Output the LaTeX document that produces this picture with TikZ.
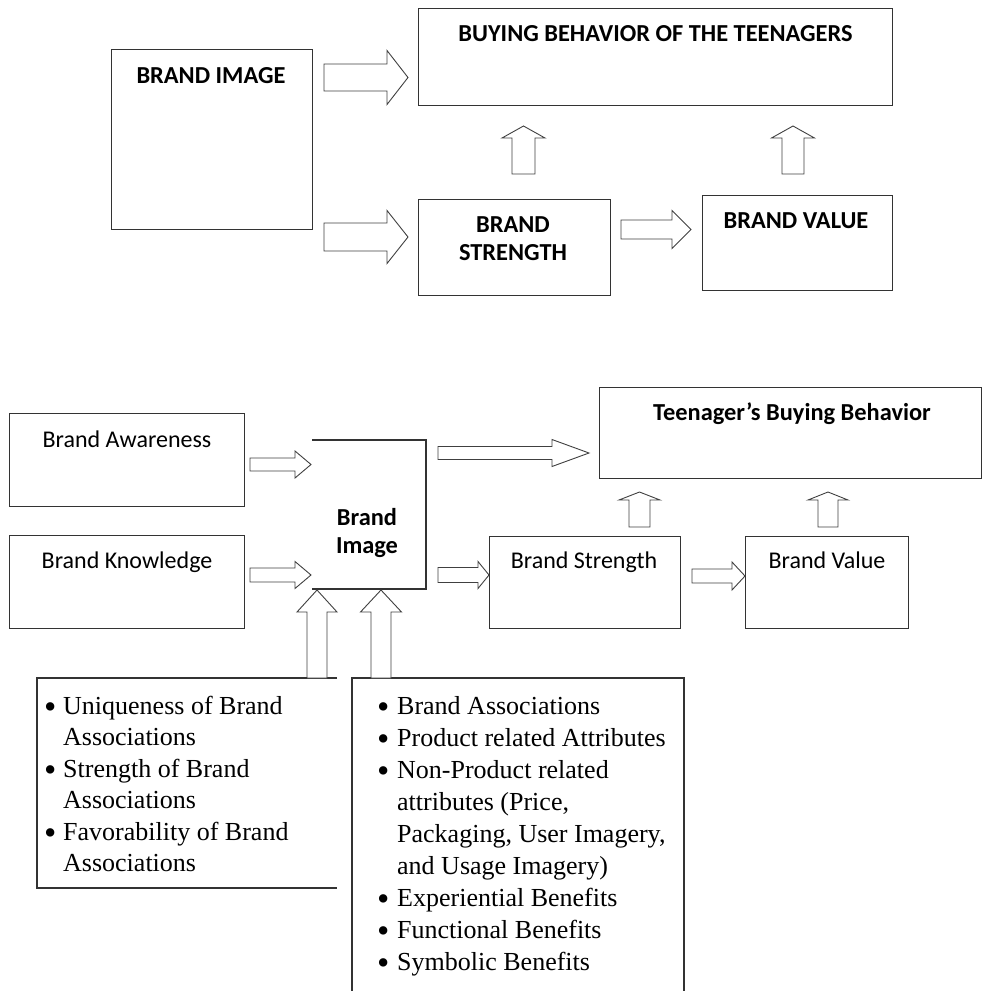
\documentclass[tikz,border=0pt]{standalone}
\usepackage{fontspec}
\setmainfont{Liberation Serif}
\newfontfamily\calfont{Carlito}
% block arrow pointing right: x0, head base x, tip x, centre y, shaft half, head half
\newcommand\rblock[6]{\draw[blk] (#1,{#4-#5}) -- (#2,{#4-#5}) -- (#2,{#4-#6}) -- (#3,#4) -- (#2,{#4+#6}) -- (#2,{#4+#5}) -- (#1,{#4+#5}) -- cycle;}
% block arrow pointing up: centre x, shaft half, head half, bottom y, head base y, tip y
\newcommand\ublock[6]{\draw[blk] ({#1-#2},#4) -- ({#1-#2},#5) -- ({#1-#3},#5) -- (#1,#6) -- ({#1+#3},#5) -- ({#1+#2},#5) -- ({#1+#2},#4) -- cycle;}
\newcommand\bul{\raisebox{-4.5pt}{\scalebox{1.35}{•}}}
\begin{document}
\begin{tikzpicture}[x=1pt,y=-1pt,
  box/.style={draw=black!80, line width=1.3pt, inner sep=0pt, anchor=north west},
  edge/.style={draw=black!80, line width=1.3pt},
  blk/.style={draw=black!75, line width=0.9pt, fill=white, line join=miter},
  lbl/.style={font=\calfont\fontsize{24}{28}\selectfont, inner sep=0pt, anchor=base},
  blbl/.style={font=\calfont\bfseries\fontsize{24.4}{28}\selectfont, inner sep=0pt, anchor=base},
  lstl/.style={font=\fontsize{26}{31.5}\selectfont, inner sep=0pt, anchor=base west},
  lstr/.style={font=\fontsize{26}{32}\selectfont, inner sep=0pt, anchor=base west}]
\useasboundingbox (0,0) rectangle (982,991);

% ---------------- top diagram ----------------
\node[box, minimum width=201pt, minimum height=180pt] (BIbox) at (111,49) {};
\node[blbl] (BItxt) at (211,83) {BRAND IMAGE};
\node[box, minimum width=474pt, minimum height=97pt] (BBbox) at (418,8) {};
\node[blbl] (BBtxt) at (655.5,41) {BUYING BEHAVIOR OF THE TEENAGERS};
\node[box, minimum width=192pt, minimum height=96pt] (BSbox) at (418,199) {};
\node[blbl, align=center] (BStxt) at (513,260) {BRAND\\[0pt]STRENGTH};
\node[box, minimum width=190pt, minimum height=95pt] (BVbox) at (702,195) {};
\node[blbl] (BVtxt) at (796,228) {BRAND VALUE};

\rblock{324}{387}{408}{77.5}{13.5}{27}
\rblock{324}{387}{408}{237}{14}{26.5}
\rblock{621}{672}{691}{229.5}{9.5}{19}
\ublock{523.5}{11.5}{21.5}{174}{138}{126}
\ublock{793}{11}{21.5}{174}{138}{126}

% ---------------- bottom diagram ----------------
\node[box, minimum width=235pt, minimum height=93pt] (BAbox) at (9,413) {};
\node[lbl] (BAtxt) at (127,447) {Brand Awareness};
\node[box, minimum width=235pt, minimum height=93pt] (BKbox) at (9,535) {};
\node[lbl] (BKtxt) at (127,568) {Brand Knowledge};

\coordinate (bi1) at (312,440);
\coordinate (bi2) at (426,440);
\coordinate (bi3) at (426,589);
\coordinate (bi4) at (312,589);
\draw[edge] (bi1) -- (bi2) -- (bi3) -- (bi4);
\node[blbl, align=center] (BI2txt) at (367,553) {Brand\\[0pt]Image};

\node[box, minimum width=382pt, minimum height=91pt] (TBbox) at (599,387) {};
\node[blbl] (TBtxt) at (792,420) {Teenager’s Buying Behavior};
\node[box, minimum width=191pt, minimum height=92pt] (BS2box) at (489,536) {};
\node[lbl] (BS2txt) at (584,568) {Brand Strength};
\node[box, minimum width=163pt, minimum height=92pt] (BV2box) at (745,536) {};
\node[lbl] (BV2txt) at (827,568) {Brand Value};

\rblock{250}{295}{311}{464.5}{6.5}{13.5}
\rblock{250}{295}{311}{575}{7}{13.5}
\rblock{438}{552}{589}{453}{6.5}{13.5}
\rblock{438}{478}{489}{575}{7.5}{13.5}
\rblock{692}{732}{745}{576}{7}{14}
\ublock{639.5}{10.5}{20.5}{527}{500}{492}
\ublock{828}{10}{20}{527}{500}{492}

% lower list boxes
\coordinate (la) at (337,678);
\coordinate (lb) at (37,678);
\coordinate (lc) at (37,888);
\coordinate (ld) at (337,888);
\draw[edge] (la) -- (lb) -- (lc) -- (ld);
\coordinate (ra) at (352,991);
\coordinate (rb) at (352,678);
\coordinate (rc) at (684,678);
\coordinate (rd) at (684,991);
\draw[edge] (ra) -- (rb) -- (rc) -- (rd);

\ublock{317}{10}{20}{678}{612}{590}
\ublock{381}{10}{20.5}{678}{612}{590}

\node[lstl] (L1) at (44,714) {\begin{tabular}[t]{@{}p{19pt}@{}l@{}}
\bul& Uniqueness of Brand\\
 & Associations\\
\bul& Strength of Brand\\
 & Associations\\
\bul& Favorability of Brand\\
 & Associations
\end{tabular}};
\node[lstr] (L2) at (377,714) {\begin{tabular}[t]{@{}p{20pt}@{}l@{}}
\bul& Brand Associations\\
\bul& Product related Attributes\\
\bul& Non-Product related\\
 & attributes (Price,\\
 & Packaging, User Imagery,\\
 & and Usage Imagery)\\
\bul& Experiential Benefits\\
\bul& Functional Benefits\\
\bul& Symbolic Benefits
\end{tabular}};
\end{tikzpicture}
\end{document}
